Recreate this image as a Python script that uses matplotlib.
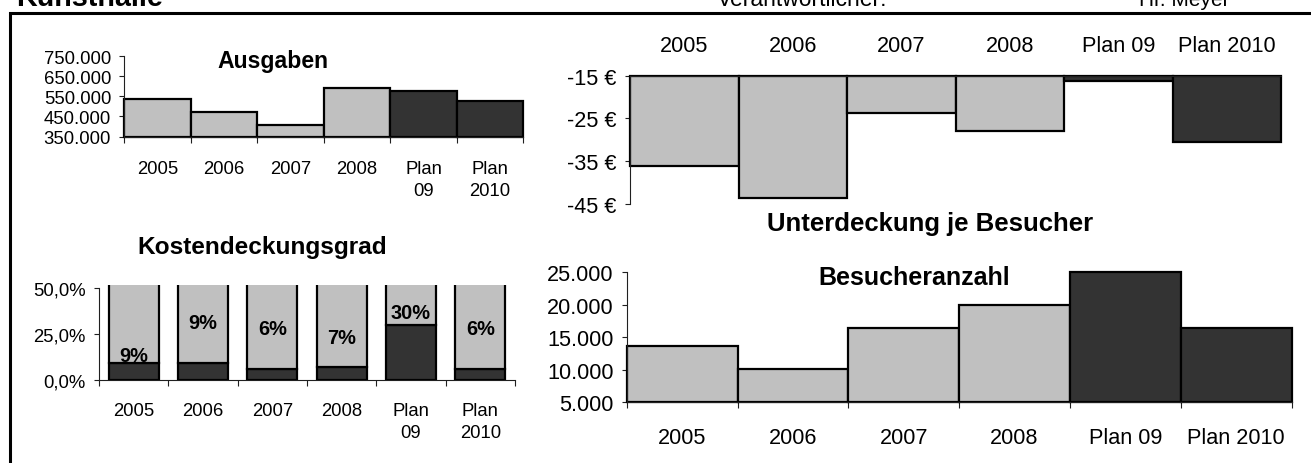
import matplotlib
matplotlib.use("Agg")
import matplotlib.pyplot as plt
import numpy as np
from matplotlib.patches import Rectangle
from matplotlib.ticker import FixedLocator, FixedFormatter, FuncFormatter, NullFormatter

plt.rcParams['font.family'] = ['Liberation Sans', 'DejaVu Sans']

# ---- data -------------------------------------------------------------
labels_wrapped = ['2005', '2006', '2007', '2008', 'Plan\n09', 'Plan\n2010']
labels_flat = ['2005', '2006', '2007', '2008', 'Plan 09', 'Plan 2010']
is_plan = [False, False, False, False, True, True]

ausgaben = [536000, 473000, 409000, 590000, 576000, 528000]
kostendeckung = [0.09, 0.09, 0.06, 0.07, 0.30, 0.06]
unterdeckung = [-36.0, -43.6, -23.7, -27.9, -16.2, -30.4]
besucher = [13600, 10100, 16500, 19900, 25000, 16500]

# ---- layout helpers ---------------------------------------------------
W, H = 1311, 464
DPI = 100
LIGHT = '#c0c0c0'
DARK = '#333333'
EDGE_LW = 1.6

fig = plt.figure(figsize=(W / DPI, H / DPI), dpi=DPI)


def px_axes(left, top, right, bottom):
    return fig.add_axes([left / W, 1 - bottom / H, (right - left) / W, (bottom - top) / H])


def fig_text(x, y, s, **kw):
    return fig.text(x / W, 1 - y / H, s, **kw)


def de_thousands(v, _pos=None):
    return f"{int(round(v)):,}".replace(',', '.')


def style_axes(ax, labels, tick_size, label_pad, top=False):
    n = len(labels)
    ax.set_xlim(0, n)
    for side in ('right', 'top', 'bottom'):
        ax.spines[side].set_visible(False)
    xside = 'top' if top else 'bottom'
    ax.spines[xside].set_visible(True)
    for side in ('left', xside):
        ax.spines[side].set_linewidth(0.8)
        ax.spines[side].set_color('#202020')
    ax.xaxis.set_major_locator(FixedLocator(np.arange(n + 1)))
    ax.xaxis.set_major_formatter(NullFormatter())
    ax.xaxis.set_minor_locator(FixedLocator(np.arange(n) + 0.5))
    ax.xaxis.set_minor_formatter(FixedFormatter(labels))
    ax.tick_params(axis='x', which='both', top=top, bottom=not top,
                   labeltop=top, labelbottom=not top)
    ax.tick_params(axis='x', which='major', length=0 if top else 4.5, width=0.8,
                   direction='out', color='#202020')
    ax.tick_params(axis='x', which='minor', length=0, pad=label_pad,
                   labelsize=tick_size)
    ax.tick_params(axis='y', length=3.5, width=0.8, direction='out', pad=6,
                   labelsize=tick_size, color='#202020')
    ax.set_facecolor('none')


colors = [DARK if p else LIGHT for p in is_plan]
xpos = np.arange(len(labels_flat)) + 0.5

# ---- Ausgaben ---------------------------------------------------------
ax1 = px_axes(124.3, 57, 523.3, 137.5)
base1 = 350000
ax1.bar(xpos, np.array(ausgaben) - base1, bottom=base1, width=1.0,
        color=colors, edgecolor='black', linewidth=EDGE_LW, clip_on=False, zorder=2)
ax1.set_ylim(350000, 750000)
ax1.set_yticks([350000, 450000, 550000, 650000, 750000])
ax1.yaxis.set_major_formatter(FuncFormatter(de_thousands))
style_axes(ax1, labels_wrapped, 13.3, 16.8)
for t in ax1.xaxis.get_minorticklabels():
    t.set_linespacing(1.42)
fig_text(272.5, 61.7, 'Ausgaben', fontsize=16.6, fontweight='bold',
         ha='center', va='center')

# ---- Kostendeckungsgrad -----------------------------------------------
ax2 = px_axes(99, 286.4, 515, 381)
cover = np.array(kostendeckung)
ax2.bar(xpos, cover, width=0.72, color=DARK, edgecolor='black',
        linewidth=EDGE_LW, zorder=2)
ax2.bar(xpos, 1 - cover, bottom=cover, width=0.72, color=LIGHT,
        edgecolor='black', linewidth=EDGE_LW, zorder=2)
ax2.set_ylim(0, 0.515)
ax2.set_yticks([0, 0.25, 0.5])
ax2.yaxis.set_major_formatter(FuncFormatter(lambda v, p: f"{v * 100:.1f}%".replace('.', ',')))
ax2.spines['left'].set_bounds(0, 0.5)
style_axes(ax2, labels_wrapped, 13.3, 15.8)
for t in ax2.xaxis.get_minorticklabels():
    t.set_linespacing(1.42)
label_y = [0.131, 0.311, 0.280, 0.230, 0.365, 0.280]
for x, v, ly in zip(xpos, kostendeckung, label_y):
    ax2.text(x, ly, f"{round(v * 100)}%", ha='center', va='center',
             fontsize=14.4, fontweight='bold', zorder=3)
fig_text(262.5, 248, 'Kostendeckungsgrad', fontsize=17.6, fontweight='bold',
         ha='center', va='center')

# ---- Unterdeckung je Besucher -----------------------------------------
ax3 = px_axes(630, 76.7, 1281, 205)
top3 = -15
ax3.bar(xpos, np.array(unterdeckung) - top3, bottom=top3, width=1.0,
        color=colors, edgecolor='black', linewidth=EDGE_LW, clip_on=False, zorder=2)
ax3.set_ylim(-45, -15)
ax3.set_yticks([-45, -35, -25, -15])
ax3.yaxis.set_major_formatter(FuncFormatter(lambda v, p: f"{int(v)} €"))
style_axes(ax3, labels_flat, 15.6, 14, top=True)
fig_text(930, 224, 'Unterdeckung je Besucher', fontsize=18.5, fontweight='bold',
         ha='center', va='center')

# ---- Besucheranzahl ---------------------------------------------------
ax4 = px_axes(626.7, 273.3, 1291.7, 403.3)
base4 = 5000
ax4.bar(xpos, np.array(besucher) - base4, bottom=base4, width=1.0,
        color=colors, edgecolor='black', linewidth=EDGE_LW, clip_on=False, zorder=2)
ax4.set_ylim(5000, 25000)
ax4.set_yticks([5000, 10000, 15000, 20000, 25000])
ax4.yaxis.set_major_formatter(FuncFormatter(de_thousands))
style_axes(ax4, labels_flat, 15.6, 17.5)
fig_text(914, 278.3, 'Besucheranzahl', fontsize=18, fontweight='bold',
         ha='center', va='center')

# ---- sheet header and frame -------------------------------------------
fig_text(16, 5.5, 'Kunsthalle', fontsize=20.7, fontweight='bold',
         ha='left', va='baseline')
fig_text(717, 6, 'Verantwortlicher:', fontsize=16.5, ha='left', va='baseline')
fig_text(1139, 6, 'Hr. Meyer', fontsize=15, ha='left', va='baseline')
fig.add_artist(Rectangle((9.5 / W, -0.5), 2, (1 - 13.5 / H) + 0.5,
                         transform=fig.transFigure, fill=False,
                         edgecolor='black', linewidth=2.2))

fig.savefig('out.png', dpi=DPI)
